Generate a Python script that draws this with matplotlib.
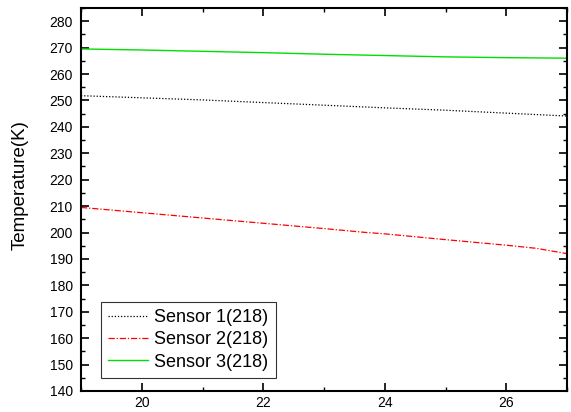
import matplotlib
matplotlib.use("Agg")
import matplotlib.pyplot as plt
from matplotlib.ticker import MultipleLocator

plt.rcParams['font.family'] = ['Liberation Sans', 'DejaVu Sans']

x = [19, 20, 21, 22, 23, 24, 25, 26, 27]
sensor1 = [251.8, 251.0, 250.2, 249.2, 248.2, 247.2, 246.3, 245.2, 244.1]
x2 = [19, 20, 21, 22, 23, 23.7, 24, 25, 26, 26.5, 27]
sensor2 = [209.5, 207.5, 205.5, 203.5, 201.5, 200.0, 199.5, 197.3, 195.2, 194.0, 192.0]
sensor3 = [269.5, 269.1, 268.6, 268.1, 267.5, 267.0, 266.5, 266.2, 266.0]
labels = ["Sensor 1(218)", "Sensor 2(218)", "Sensor 3(218)"]

fig = plt.figure(figsize=(5.71, 4.12), dpi=100)
ax = fig.add_axes([81/571, 1-391/412, (567-81)/571, (391-8)/412])

ax.plot(x, sensor1, color='black', linestyle=(0, (1, 1.5)), linewidth=0.9, label=labels[0])
ax.plot(x2, sensor2, color='red', linestyle=(0, (5, 1.5, 1, 1.5)), linewidth=0.9, label=labels[1])
ax.plot(x, sensor3, color='#00e000', linestyle='-', linewidth=1.0, label=labels[2])

ax.set_xlim(19, 27)
ax.set_ylim(140, 285)
ax.xaxis.set_major_locator(MultipleLocator(2))
ax.xaxis.set_minor_locator(MultipleLocator(1))
ax.yaxis.set_major_locator(MultipleLocator(10))
ax.yaxis.set_minor_locator(MultipleLocator(5))
ax.tick_params(which='both', direction='in', top=True, right=True, labelsize=10)
ax.tick_params(which='major', length=6, width=1.2)
ax.tick_params(which='minor', length=3, width=1.0)
ax.tick_params(axis='y', pad=6)
for s in ax.spines.values():
    s.set_linewidth(1.5)

ax.set_ylabel("Temperature(K)", fontsize=13.5)
ax.yaxis.set_label_coords((29-81)/486, (391-185.5)/383)

leg = ax.legend(loc='lower left', bbox_to_anchor=((101-81)/486, (391-378)/383),
                fontsize=13, frameon=True, fancybox=False, edgecolor='black',
                handlelength=2.2, borderpad=0.4, labelspacing=0.3, handletextpad=0.35,
                borderaxespad=0)
leg.get_frame().set_linewidth(0.8)

fig.savefig("out.png", dpi=100)
